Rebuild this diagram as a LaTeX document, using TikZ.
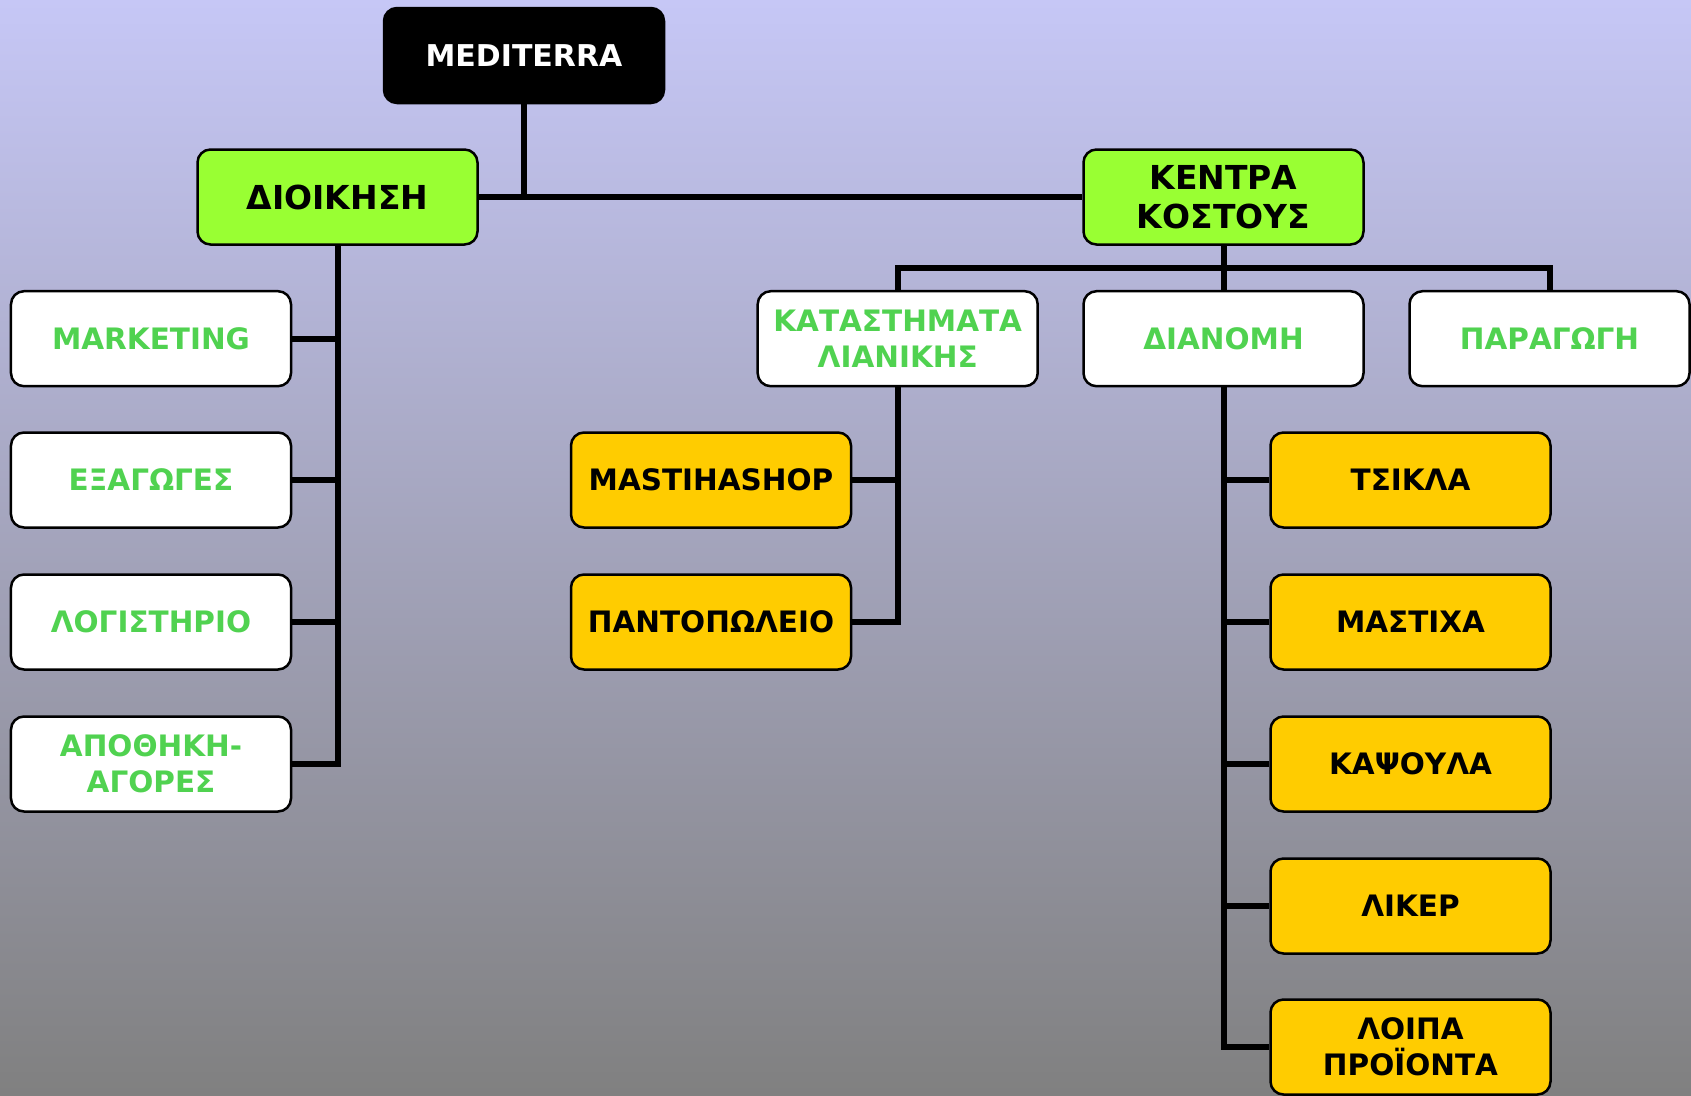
\documentclass[tikz,border=0pt]{standalone}
\usepackage{fontspec}
\setmainfont{DejaVu Sans}
\usetikzlibrary{backgrounds}
\definecolor{bgtop}{RGB}{198,199,246}
\definecolor{bgbot}{RGB}{128,128,128}
\definecolor{boxgreen}{RGB}{153,255,51}
\definecolor{txtgreen}{RGB}{80,210,80}
\definecolor{boxyellow}{RGB}{255,204,0}
\begin{document}
\begin{tikzpicture}[x=1bp,y=-1bp,
  box/.style={rectangle,rounded corners=13bp,draw=black,line width=2.5bp,
    minimum width=280bp,minimum height=95bp,align=center,inner sep=0pt,
    font=\fontsize{29.5bp}{36bp}\selectfont\bfseries},
  topbox/.style={box,fill=black,text=white,font=\fontsize{30bp}{36bp}\selectfont\bfseries},
  greenbox/.style={box,fill=boxgreen,text=black,font=\fontsize{33bp}{39bp}\selectfont\bfseries},
  whitebox/.style={box,fill=white,text=txtgreen},
  yellowbox/.style={box,fill=boxyellow,text=black},
  conn/.style={draw=black,line width=6bp}]
\useasboundingbox (0,0) rectangle (1691,1095);
\coordinate (kbus) at (1223.5,267.6);
% nodes
\node[topbox]    (med) at (524,55.5)    {MEDITERRA};
\node[greenbox]  (dio) at (337.5,197)   {ΔΙΟΙΚΗΣΗ};
\node[greenbox]  (ken) at (1223.5,197)  {ΚΕΝΤΡΑ\\ΚΟΣΤΟΥΣ};
\node[whitebox]  (mkt) at (151,338.7)   {MARKETING};
\node[whitebox]  (kat) at (897.7,338.7) {ΚΑΤΑΣΤΗΜΑΤΑ\\ΛΙΑΝΙΚΗΣ};
\node[whitebox]  (dia) at (1223.5,338.7){ΔΙΑΝΟΜΗ};
\node[whitebox]  (par) at (1549.5,338.7){ΠΑΡΑΓΩΓΗ};
\node[whitebox]  (exa) at (151,480)     {ΕΞΑΓΩΓΕΣ};
\node[whitebox]  (log) at (151,622)     {ΛΟΓΙΣΤΗΡΙΟ};
\node[whitebox]  (apo) at (151,764)     {ΑΠΟΘΗΚΗ-\\ΑΓΟΡΕΣ};
\node[yellowbox] (mas) at (711,480)     {MASTIHASHOP};
\node[yellowbox] (pan) at (711,622)     {ΠΑΝΤΟΠΩΛΕΙΟ};
\node[yellowbox] (tsi) at (1410.5,480)  {ΤΣΙΚΛΑ};
\node[yellowbox] (mst) at (1410.5,622)  {ΜΑΣΤΙΧΑ};
\node[yellowbox] (kap) at (1410.5,764)  {ΚΑΨΟΥΛΑ};
\node[yellowbox] (lik) at (1410.5,906)  {ΛΙΚΕΡ};
\node[yellowbox] (loi) at (1410.5,1047) {ΛΟΙΠΑ\\ΠΡΟΪΟΝΤΑ};
\begin{scope}[on background layer]
\shade[top color=bgtop,bottom color=bgbot] (0,0) rectangle (1691,1095);
\draw[conn] (med.south) -- (med.south |- dio.east);
\draw[conn] (dio.east) -- (ken.west);
\draw[conn] (ken.south) -- (dia.north);
\draw[conn] (kat.north) -- (kat.north |- kbus) -- (par.north |- kbus) -- (par.north);
\draw[conn] (dio.south) |- (apo.east);
\draw[conn] (mkt.east) -- (mkt.east -| dio.south);
\draw[conn] (exa.east) -- (exa.east -| dio.south);
\draw[conn] (log.east) -- (log.east -| dio.south);
\draw[conn] (kat.south) |- (pan.east);
\draw[conn] (mas.east) -- (mas.east -| kat.south);
\draw[conn] (dia.south) |- (loi.west);
\draw[conn] (tsi.west) -- (tsi.west -| dia.south);
\draw[conn] (mst.west) -- (mst.west -| dia.south);
\draw[conn] (kap.west) -- (kap.west -| dia.south);
\draw[conn] (lik.west) -- (lik.west -| dia.south);
\end{scope}
\end{tikzpicture}
\end{document}
